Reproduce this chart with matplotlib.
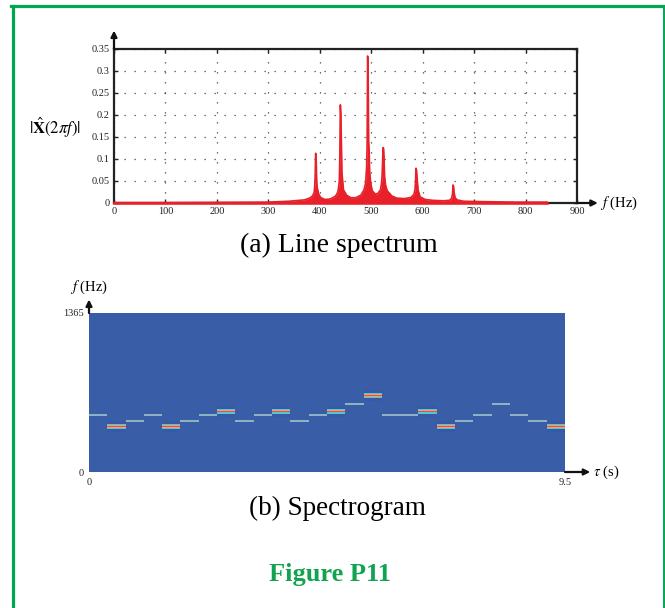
import matplotlib
matplotlib.use('Agg')
import matplotlib.pyplot as plt
import numpy as np
from matplotlib.colors import LinearSegmentedColormap
from matplotlib.lines import Line2D

plt.rcParams['font.family'] = 'serif'
plt.rcParams['font.serif'] = ['Liberation Serif', 'DejaVu Serif']
plt.rcParams['mathtext.fontset'] = 'stix'

# line spectrum (Hz, magnitude)
spec_freq = [0, 100, 200, 300, 340, 370, 380, 386, 389, 390, 391, 392, 393, 394, 395, 398, 402,
             410, 420, 430, 434, 436, 438, 439, 440, 441, 442, 443, 446, 452, 460, 470, 480, 486,
             489, 491, 492, 493, 494, 495, 496, 497, 499, 502, 508, 513, 518, 520, 521, 522, 523,
             524, 525, 526, 528, 531, 540, 550, 565, 578, 583, 585, 586, 587, 588, 589, 591, 595,
             605, 620, 640, 652, 656, 658, 659, 660, 661, 663, 667, 680, 720, 780, 842]
spec_mag = [0.001, 0.001, 0.0015, 0.002, 0.004, 0.007, 0.011, 0.016, 0.024, 0.035, 0.06, 0.113, 0.1, 0.05, 0.035, 0.02, 0.012,
            0.008, 0.009, 0.015, 0.022, 0.03, 0.05, 0.11, 0.223, 0.2, 0.14, 0.07, 0.03, 0.018, 0.012, 0.012, 0.018, 0.03,
            0.045, 0.08, 0.13, 0.334, 0.3, 0.14, 0.12, 0.07, 0.045, 0.028, 0.02, 0.022, 0.03, 0.045, 0.06, 0.09, 0.126,
            0.124, 0.1, 0.06, 0.04, 0.028, 0.016, 0.011, 0.01, 0.013, 0.02, 0.03, 0.045, 0.079, 0.075, 0.06, 0.03, 0.014,
            0.008, 0.006, 0.005, 0.006, 0.01, 0.02, 0.041, 0.038, 0.025, 0.012, 0.007, 0.004, 0.003, 0.002, 0.002]
x_ticks = [0, 100, 200, 300, 400, 500, 600, 700, 800, 900]
y_ticks = [0, 0.05, 0.1, 0.15, 0.2, 0.25, 0.3, 0.35]

# spectrogram: one note per time slot (Hz), and whether it shows red (strong)
note_freq = [494, 392, 440, 494, 392, 440, 494, 523, 440, 494, 523, 440, 494,
             523, 587, 659, 494, 494, 523, 392, 440, 494, 587, 494, 440, 392]
note_strong = [0, 1, 0, 0, 1, 0, 0, 1, 0, 0, 1, 0, 0,
               1, 0, 1, 0, 0, 1, 1, 0, 0, 0, 0, 0, 1]
t_max = 9.5
f_max = 1365

fig = plt.figure(figsize=(6.65, 6.08), dpi=100)
W, H = 665, 608

def px_axes(l, t, r, b):
    return fig.add_axes([l / W, 1 - b / H, (r - l) / W, (b - t) / H])

# ---- (a) line spectrum
ax = px_axes(114, 49, 577, 203)
ax.fill_between(spec_freq, 0, spec_mag, color='#e8202a', lw=0, zorder=3)
ax.plot(spec_freq, spec_mag, color='#e8202a', lw=1.2, zorder=4, clip_on=False)
ax.plot([spec_freq[0], spec_freq[-1]], [0, 0], color='#e8202a', lw=1.8, zorder=5, clip_on=False)
ax.set_xlim(0, 900)
ax.set_ylim(0, 0.35)
ax.set_xticks(x_ticks)
ax.set_yticks(y_ticks)
ax.set_xticklabels([str(v) for v in x_ticks])
ax.set_yticklabels(['0', '0.05', '0.1', '0.15', '0.2', '0.25', '0.3', '0.35'])
ax.tick_params(direction='in', top=True, right=True, length=3, width=1,
               labelsize=7.5, pad=3, colors='#222')
ax.grid(True, linestyle=(0, (1, 7)), color='#444', linewidth=0.9, zorder=1)
for s in ax.spines.values():
    s.set_linewidth(1.6)
    s.set_color('#222')
ax.annotate('', xy=(1.045, 0), xytext=(1.0, 0), xycoords='axes fraction',
            arrowprops=dict(arrowstyle='-|>', lw=1.6, color='#111', mutation_scale=9,
                            shrinkA=0, shrinkB=0), annotation_clip=False)
ax.annotate('', xy=(0, 1.12), xytext=(0, 1.0), xycoords='axes fraction',
            arrowprops=dict(arrowstyle='-|>', lw=1.6, color='#111', mutation_scale=9,
                            shrinkA=0, shrinkB=0), annotation_clip=False)
ax.text(1.05, 0, r'$f$ (Hz)', transform=ax.transAxes, ha='left', va='center', fontsize=10.5)
ax.text(-0.127, 0.49, r'$|\hat{\mathbf{X}}(2\pi f)|$', transform=ax.transAxes,
        ha='center', va='center', fontsize=12)

fig.text(339 / W, 1 - 245 / H, '(a) Line spectrum', ha='center', va='center', fontsize=20)

# ---- (b) spectrogram
ax2 = px_axes(89, 313, 565, 472)
n_rows = 318
f_rows = (np.arange(n_rows) + 0.5) * f_max / n_rows
img = np.full((n_rows, len(note_freq)), 0.06)
for j, (fn, st) in enumerate(zip(note_freq, note_strong)):
    d = np.abs(f_rows - fn)
    if st:
        img[d < 50, j] = 0.03
        img[d < 24, j] = 0.45
        img[d < 10, j] = 0.75
        img[d < 5, j] = 1.0
    else:
        img[d < 9, j] = 0.32
cmap = LinearSegmentedColormap.from_list('spec', [
    (0.0, '#3558a1'), (0.06, '#3b5ea9'), (0.32, '#8fb3c2'),
    (0.45, '#55c6d2'), (0.75, '#eba27c'), (1.0, '#e2504c')])
ax2.imshow(img, cmap=cmap, vmin=0, vmax=1, aspect='auto', origin='lower',
           extent=[0, t_max, 0, f_max], interpolation='nearest')
ax2.set_xlim(0, t_max)
ax2.set_ylim(0, f_max)
ax2.set_xticks([0, t_max])
ax2.set_xticklabels(['0', '9.5'])
ax2.set_yticks([0, f_max])
ax2.set_yticklabels(['0', '1365'])
ax2.tick_params(length=0, labelsize=7.5, pad=4, colors='#222')
for s in ax2.spines.values():
    s.set_visible(False)
ax2.annotate('', xy=(1.053, 0), xytext=(1.0, 0), xycoords='axes fraction',
             arrowprops=dict(arrowstyle='-|>', lw=1.6, color='#111', mutation_scale=9,
                             shrinkA=0, shrinkB=0), annotation_clip=False)
ax2.annotate('', xy=(0, 1.085), xytext=(0, 1.0), xycoords='axes fraction',
             arrowprops=dict(arrowstyle='-|>', lw=1.6, color='#111', mutation_scale=9,
                             shrinkA=0, shrinkB=0), annotation_clip=False)
ax2.text(1.058, 0.0, r'$\tau$ (s)', transform=ax2.transAxes, ha='left', va='center', fontsize=10.5)
ax2.text(0.0, 1.16, r'$f$ (Hz)', transform=ax2.transAxes, ha='center', va='center', fontsize=10.5)

fig.text(337 / W, 1 - 508 / H, '(b) Spectrogram', ha='center', va='center', fontsize=19.5)
fig.text(330 / W, 1 - 575 / H, 'Figure P11', ha='center', va='center', fontsize=19,
         fontweight='bold', color='#12a350')

# green frame
green = '#00a650'
fig.add_artist(Line2D([12.5 / W, 12.5 / W], [0, 1 - 5.5 / H], color=green, lw=2.3))
fig.add_artist(Line2D([11 / W, 665 / W], [1 - 5.5 / H, 1 - 5.5 / H], color=green, lw=2.3))
fig.add_artist(Line2D([663.8 / W, 663.8 / W], [0, 1 - 5.5 / H], color=green, lw=1.4))

fig.savefig('out.png', dpi=100)
